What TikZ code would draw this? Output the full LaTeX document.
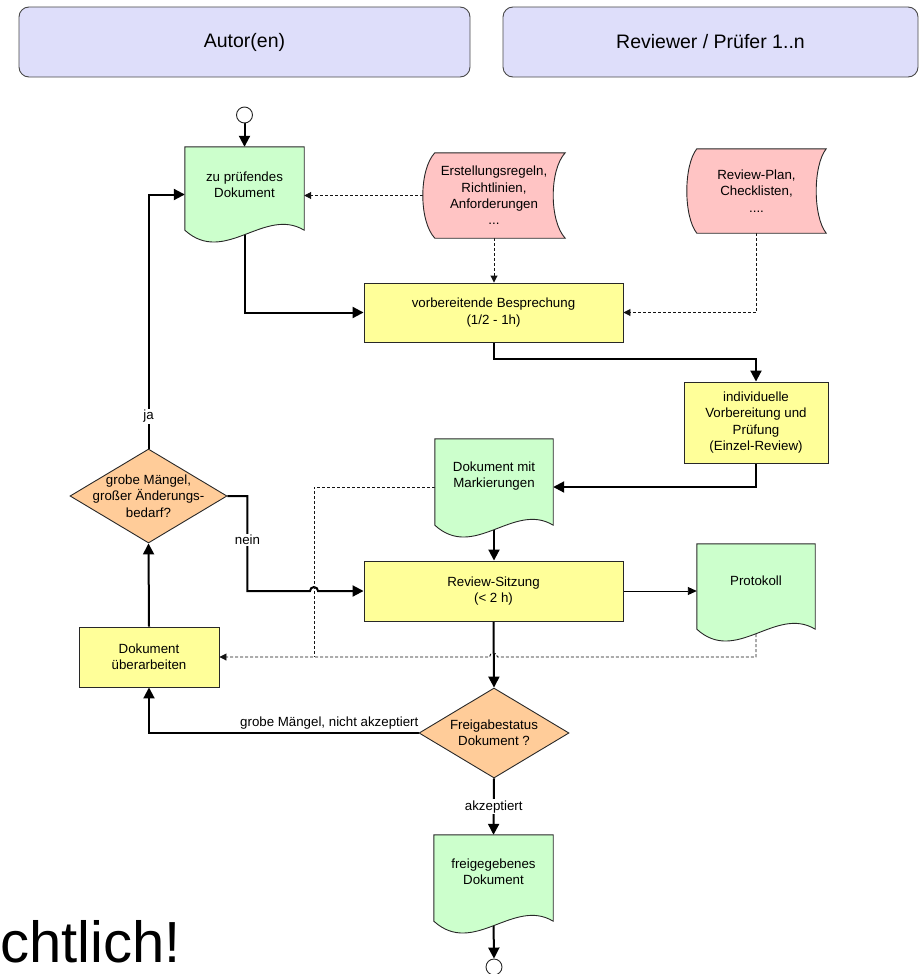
\documentclass[tikz,border=0pt]{standalone}
\usepackage{fontspec}
\setmainfont{Liberation Sans}
\usetikzlibrary{arrows.meta,calc,shapes.geometric}
\pgfdeclarelayer{lines}
\pgfdeclarelayer{fills}
\pgfsetlayers{lines,fills,main}
\definecolor{hdrfill}{RGB}{222,222,250}
\definecolor{docgreen}{RGB}{204,255,204}
\definecolor{boxyellow}{RGB}{255,255,153}
\definecolor{datapink}{RGB}{255,196,196}
\definecolor{decorange}{RGB}{255,204,153}
\definecolor{edge}{RGB}{40,40,40}
\definecolor{dashc}{RGB}{20,20,20}
\newcommand\docoutline[2]{%
  \path[shp,fill=#2] (#1.south west) -- (#1.north west) -- (#1.north east) -- (#1.south east)
    .. controls ($(#1.south west)!2/3!(#1.south east)+(0,-24)$) and ($(#1.south west)!1/3!(#1.south east)+(0,36)$) .. (#1.south west) -- cycle;}
\newcommand\storeoutline[3]{%
  \path[shp,fill=#2] ($(#1.north west)+(#3,0)$) -- (#1.north east)
    .. controls ($(#1.north east)!0.2!(#1.south east)+(-4*#3/3,0)$) and ($(#1.north east)!0.8!(#1.south east)+(-4*#3/3,0)$) .. (#1.south east)
    -- ($(#1.south west)+(#3,0)$)
    .. controls ($(#1.south west)!0.2!(#1.north west)+(-#3/3,0)$) and ($(#1.south west)!0.8!(#1.north west)+(-#3/3,0)$) .. ($(#1.north west)+(#3,0)$) -- cycle;}
\begin{document}
\begin{tikzpicture}[x=1pt,y=-1pt,
  every node/.style={font=\fontsize{13.3}{16.3}\selectfont, align=center, inner sep=0pt},
  hdr/.style={draw=edge!85, line width=0.9pt, fill=hdrfill, rounded corners=10pt, font=\fontsize{19.5}{23}\selectfont},
  procbox/.style={rectangle, draw=edge, line width=0.9pt, fill=boxyellow},
  dia/.style={diamond, draw=edge, line width=0.9pt, fill=decorange},
  area/.style={rectangle, draw=none},
  termc/.style={circle, draw=edge, line width=0.9pt, fill=white, minimum size=16pt},
  shp/.style={draw=edge, line width=0.9pt},
  flow/.style={line width=2pt, -{Triangle[length=11pt,width=11pt]}},
  thinflow/.style={line width=0.9pt, -{Triangle[length=9pt,width=8pt]}},
  dflow/.style={line width=0.9pt, draw=dashc, dash pattern=on 3pt off 2pt, -{Triangle[length=7pt,width=7pt]}},
  dline/.style={line width=0.9pt, draw=dashc, dash pattern=on 3pt off 2pt},
  lbl/.style={fill=white, inner sep=1.5pt},
]
\useasboundingbox (0,0) rectangle (922,974);

% headers
\node[hdr, minimum width=451pt, minimum height=70pt] (hA) at (244.5,42) {Autor(en)};
\node[hdr, minimum width=415pt, minimum height=70pt] (hB) at (710.5,42) {Reviewer / Prüfer 1..n};

% nodes
\node[termc] (start) at (244.5,115) {};
\node[area, minimum width=119pt, minimum height=83pt] (d1) at (244.5,188.5) {};
\node (d1t) at ([yshift=4pt]d1.center) {zu prüfendes\\Dokument};
\node[area, minimum width=142pt, minimum height=85pt] (erst) at (494,195.5) {};
\node (erstt) at (erst.center) {Erstellungsregeln,\\Richtlinien,\\Anforderungen\\...};
\node[area, minimum width=139pt, minimum height=84pt] (plan) at (756.5,191) {};
\node (plant) at (plan.center) {Review-Plan,\\Checklisten,\\....};
\node[procbox, minimum width=259pt, minimum height=59pt] (vorb) at (493.5,312.5) {vorbereitende Besprechung\\(1/2 - 1h)};
\node[procbox, minimum width=144pt, minimum height=81pt] (indiv) at (756,422.5) {individuelle\\Vorbereitung und\\Prüfung\\(Einzel-Review)};
\node[area, minimum width=118pt, minimum height=86pt] (mark) at (494,482) {};
\node (markt) at ([yshift=6pt]mark.center) {Dokument mit\\Markierungen};
\node[dia, minimum width=157pt, minimum height=94pt] (q1) at (148.5,496) {};
\node (q1t) at (q1.center) {grobe Mängel,\\großer Änderungs-\\bedarf?};
\node[procbox, minimum width=140pt, minimum height=60pt] (ueber) at (149,657) {Dokument\\überarbeiten};
\node[procbox, minimum width=259pt, minimum height=60pt] (review) at (493.5,591) {Review-Sitzung\\(< 2 h)};
\node[area, minimum width=118pt, minimum height=85pt] (proto) at (756,586.5) {};
\node (protot) at ([yshift=5.5pt]proto.center) {Protokoll};
\node[dia, minimum width=150pt, minimum height=90pt] (q2) at (494,733) {};
\node (q2t) at (q2.center) {Freigabestatus\\Dokument ?};
\node[area, minimum width=119pt, minimum height=86pt] (freig) at (493.5,878) {};
\node (freigt) at ([yshift=6pt]freig.center) {freigegebenes\\Dokument};
\node[termc] (end) at (494,967) {};
\node[font=\fontsize{58}{60}\selectfont, anchor=base west] (big) at (0,962) {chtlich!};

% labels
\node[anchor=base east] (lq2) at ([yshift=6.5pt]q2.west) {grobe Mängel, nicht akzeptiert};
\node[lbl] (lja) at ($(q1.north)+(0,-32)$) {ja};
\node[lbl] (lnein) at ($(q1.east)+(20,44)$) {nein};

% custom outlines
\begin{pgfonlayer}{fills}
\docoutline{d1}{docgreen}
\docoutline{mark}{docgreen}
\docoutline{proto}{docgreen}
\docoutline{freig}{docgreen}
\storeoutline{erst}{datapink}{12}
\storeoutline{plan}{datapink}{10}
\end{pgfonlayer}

% connectors
\begin{pgfonlayer}{lines}
\coordinate (dj) at (314,487);
\draw[flow] (start) -- (d1);
\draw[dflow] (erst.west) -- (erst.west -| d1.east);
\draw[flow] (d1.south) |- (vorb.west);
\draw[dflow] (erst.south) -- (erst.south |- vorb.north);
\draw[dflow] (plan.south) |- (vorb.east);
\draw[flow] (vorb.south) -- ++(0,16.5) -| (indiv.north);
\draw[flow] (indiv.south) |- (dj -| mark.east);
\draw[flow] (mark.south) -- (mark.south |- review.north);
\draw[thinflow] (review.east) -- (review.east -| proto.west);
\draw[flow] (review.south) -- (q2.north);
\draw[flow] (q2.west) -| (ueber.south);
\draw[flow] (q2.south) -- (freig.north) node[lbl, midway] (lak) {akzeptiert};
\draw[flow] (freig.south) -- (end.north);
\draw[flow] (ueber.north) -- (q1.south);
\draw[flow] (q1.north) |- ([yshift=-6pt]d1.west);
\draw[flow] (q1.east) -- ++(20,0) |- ($(dj |- review.west)+(-4,0)$) arc[start angle=180, end angle=0, radius=4pt] -- (review.west);
\draw[dline] (dj -| mark.west) -- (dj) -- (dj |- ueber.east);
\draw[dflow] (proto.south) |- ($(review.south |- ueber.east)+(4,0)$) arc[start angle=0, end angle=180, radius=4pt] -- (ueber.east);
\end{pgfonlayer}
\end{tikzpicture}
\end{document}
